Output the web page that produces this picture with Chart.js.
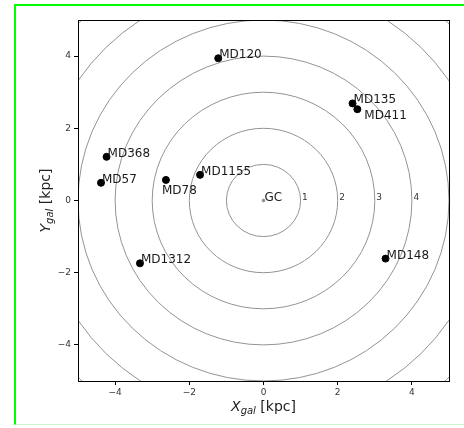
<!DOCTYPE html>
<html>
<head>
<meta charset="utf-8">
<script src="https://cdn.jsdelivr.net/npm/chart.js@4.4.1/dist/chart.umd.min.js"></script>
<style>
  body { margin: 0; background: #fff; }
  #wrap { position: relative; width: 464px; height: 428px; }
  #frame { position: absolute; left: 14px; top: 4px; width: 450px; height: 421px;
           border-left: 2px solid #00ff00; border-top: 2px solid #00ff00;
           border-bottom: 1px solid #cdf5cd; pointer-events: none; box-sizing: border-box; }
  canvas { position: absolute; left: 0; top: 0; }
</style>
</head>
<body>
<div id="wrap">
  <canvas id="galChart" width="464" height="428"></canvas>
  <div id="frame"></div>
</div>
<script>
// clusters in galactic coordinates (kpc)
const names = ['MD120', 'MD135', 'MD411', 'MD368', 'MD57', 'MD78', 'MD1155', 'MD1312', 'MD148'];
const xGal = [-1.22, 2.40, 2.53, -4.23, -4.38, -2.63, -1.71, -3.33, 3.29];
const yGal = [3.94, 2.69, 2.53, 1.21, 0.49, 0.57, 0.71, -1.74, -1.61];
const rings = [1, 2, 3, 4, 5, 6, 7];
const ringLabels = ['1', '2', '3', '4'];
const xTicks = [-4, -2, 0, 2, 4];
const yTicks = [-4, -2, 0, 2, 4];

// a few labels sit off the point (pixels)
const labelShift = { MD411: [7, 10], MD78: [-4, 14] };

const fontFam = '"DejaVu Sans", sans-serif';

function minus(v) { return String(v).replace('-', '\u2212'); }

const decor = {
  id: 'decor',
  beforeDatasetsDraw(chart) {
    const { ctx, chartArea: a, scales: { x, y } } = chart;
    ctx.save();
    ctx.beginPath();
    ctx.rect(a.left, a.top, a.right - a.left, a.bottom - a.top);
    ctx.clip();
    ctx.strokeStyle = '#939393';
    ctx.lineWidth = 1;
    const cx = x.getPixelForValue(0), cy = y.getPixelForValue(0);
    rings.forEach(r => {
      const rx = x.getPixelForValue(r) - cx;
      const ry = cy - y.getPixelForValue(r);
      ctx.beginPath();
      ctx.ellipse(cx, cy, rx, ry, 0, 0, Math.PI * 2);
      ctx.stroke();
    });
    ctx.fillStyle = '#333';
    ctx.font = '9px ' + fontFam;
    ctx.textBaseline = 'alphabetic';
    ringLabels.forEach((t, i) => {
      ctx.fillText(t, x.getPixelForValue(rings[i] + 0.04), cy - 0.5);
    });
    ctx.restore();
  },
  afterDatasetsDraw(chart) {
    const { ctx, chartArea: a, scales: { x, y } } = chart;
    ctx.save();
    ctx.fillStyle = '#1a1a1a';
    ctx.font = '12px ' + fontFam;
    ctx.textBaseline = 'alphabetic';
    names.forEach((n, i) => {
      const s = labelShift[n] || [1, 0];
      ctx.fillText(n, x.getPixelForValue(xGal[i]) + s[0], y.getPixelForValue(yGal[i]) + s[1]);
    });
    ctx.fillText('GC', x.getPixelForValue(0) + 1, y.getPixelForValue(0));

    // frame
    ctx.strokeStyle = '#000';
    ctx.lineWidth = 1;
    ctx.strokeRect(a.left + 0.5, a.top + 0.5, a.right - a.left, a.bottom - a.top);

    // axis titles with italic subscript
    const drawTitle = (letter) => {
      ctx.font = 'italic 14px ' + fontFam;
      const w1 = ctx.measureText(letter).width;
      ctx.font = '14px ' + fontFam;
      const w3 = ctx.measureText(' [kpc]').width;
      ctx.font = 'italic 10px ' + fontFam;
      const w2 = ctx.measureText('gal').width;
      let p = -(w1 + w2 + w3) / 2;
      ctx.font = 'italic 14px ' + fontFam;
      ctx.fillText(letter, p, 0); p += w1;
      ctx.font = 'italic 10px ' + fontFam;
      ctx.fillText('gal', p, 3); p += w2;
      ctx.font = '14px ' + fontFam;
      ctx.fillText(' [kpc]', p, 0);
    };
    ctx.fillStyle = '#222';
    ctx.save();
    ctx.translate((a.left + a.right) / 2, 411);
    drawTitle('X');
    ctx.restore();
    ctx.save();
    ctx.translate(50, (a.top + a.bottom) / 2);
    ctx.rotate(-Math.PI / 2);
    drawTitle('Y');
    ctx.restore();
    ctx.restore();
  }
};

new Chart(document.getElementById('galChart'), {
  type: 'scatter',
  data: {
    datasets: [{
      data: names.map((n, i) => ({ x: xGal[i], y: yGal[i] })),
      backgroundColor: '#000',
      borderColor: '#000',
      pointRadius: 3.5,
      pointHoverRadius: 3.5
    }, {
      data: [{ x: 0, y: 0 }],
      backgroundColor: '#888',
      borderColor: '#888',
      pointRadius: 1.3,
      pointHoverRadius: 1.3
    }]
  },
  options: {
    responsive: false,
    animation: false,
    events: [],
    layout: { padding: { left: 0, top: 20, right: 15, bottom: 0 } },
    plugins: { legend: { display: false }, tooltip: { enabled: false } },
    scales: {
      x: {
        min: -5, max: 5,
        afterBuildTicks: s => { s.ticks = xTicks.map(v => ({ value: v })); },
        afterFit: s => { s.height = 47; },
        grid: { drawOnChartArea: false, drawTicks: true, tickLength: 4, color: '#000' },
        border: { display: false },
        ticks: { color: '#333', font: { size: 9, family: fontFam }, padding: 2, maxRotation: 0,
                  callback: v => minus(v) }
      },
      y: {
        min: -5, max: 5,
        afterBuildTicks: s => { s.ticks = yTicks.map(v => ({ value: v })); },
        afterFit: s => { s.width = 78; },
        grid: { drawOnChartArea: false, drawTicks: true, tickLength: 4, color: '#000' },
        border: { display: false },
        ticks: { color: '#333', font: { size: 9, family: fontFam }, padding: 3,
                  callback: v => minus(v) }
      }
    }
  },
  plugins: [decor]
});
</script>
</body>
</html>
